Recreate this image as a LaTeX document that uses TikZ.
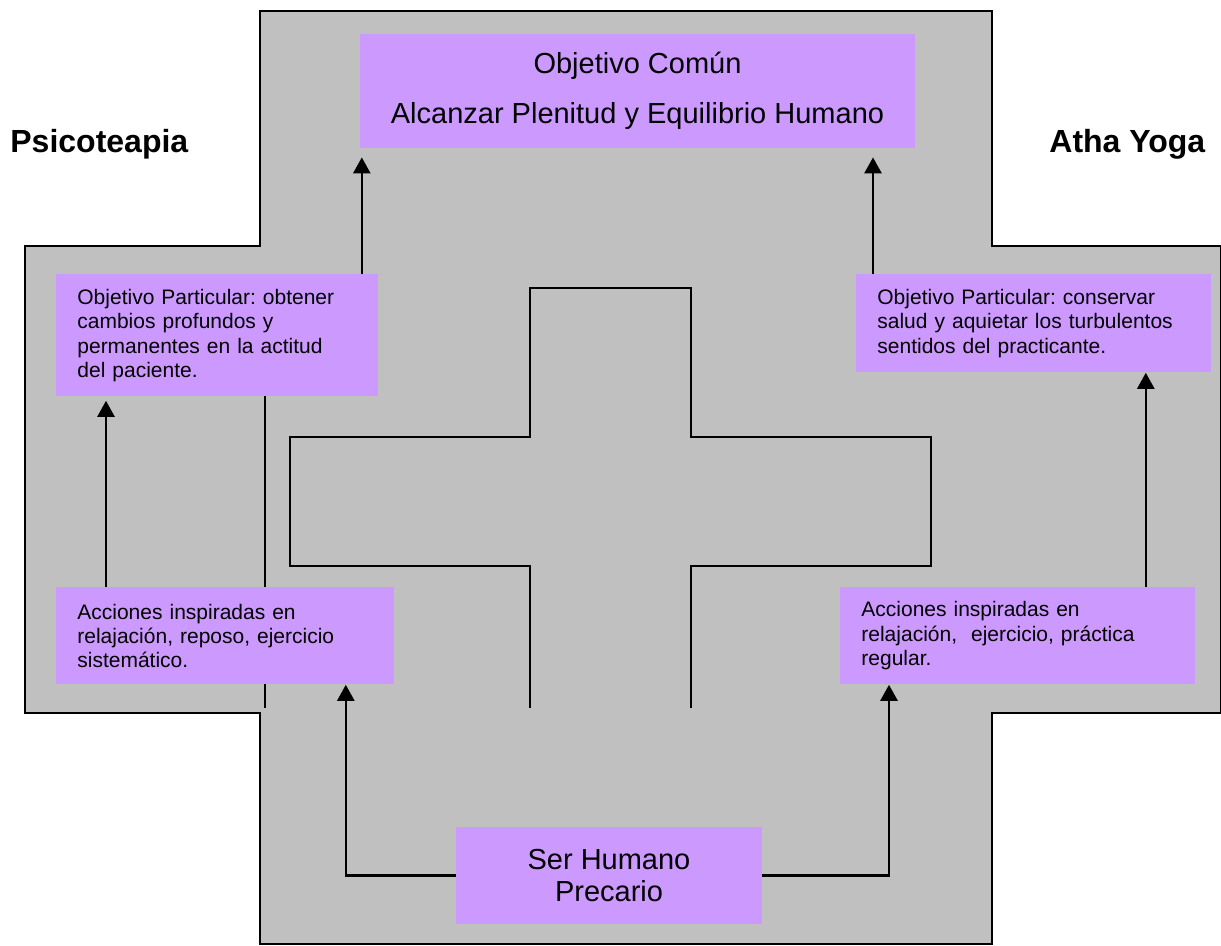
\documentclass[tikz,border=0pt]{standalone}
\usepackage{fontspec}
\setmainfont{Liberation Sans}
\usepackage{tikz}
\usetikzlibrary{arrows.meta,positioning,calc}
\definecolor{gris}{HTML}{C0C0C0}
\definecolor{lila}{HTML}{CC99FF}
\frenchspacing

\begin{document}
\begin{tikzpicture}[x=0.5pt,y=-0.5pt,
  every node/.style={inner sep=0pt},
  caja/.style={fill=lila,inner xsep=10.5pt,inner ysep=0pt,align=left,
    font=\fontsize{10.5pt}{12.2pt}\selectfont},
  grande/.style={fill=lila,align=center,font=\fontsize{14.5pt}{16pt}\selectfont},
  titulo/.style={anchor=base west,font=\bfseries\fontsize{16pt}{18pt}\selectfont},
  flecha/.style={line width=1.3pt,-{Triangle[width=8.5pt,length=8pt]}}]
  \useasboundingbox (0,0) rectangle (1221,946);
  % cruz exterior
  \filldraw[fill=gris,line width=0.75pt] (260,11) -- (992,11) -- (992,246) -- (1221,246)
    -- (1221,713) -- (992,713) -- (992,944) -- (260,944) -- (260,713) -- (25,713)
    -- (25,246) -- (260,246) -- cycle;
  % cruz interior
  \draw[line width=0.9pt] (530,708) -- (530,566) -- (290,566) -- (290,437) -- (530,437)
    -- (530,288) -- (691,288) -- (691,437) -- (931,437) -- (931,566) -- (691,566) -- (691,708);
  \draw[line width=0.9pt] (265,380) -- (265,708);

  \node[grande,minimum width=277.5pt,minimum height=57pt] (comun) at (637.5,91)
    {Objetivo Común\\[9pt]Alcanzar Plenitud y Equilibrio Humano};
  \node[caja,anchor=north west,minimum width=161pt,minimum height=61pt,text width=140pt]
    (objIzq) at (56,274) {Objetivo Particular: obtener\\cambios profundos y\\permanentes en la actitud\\del paciente.};
  \node[caja,anchor=north west,minimum width=177.5pt,minimum height=49pt,text width=156.5pt]
    (objDer) at (856,274) {Objetivo Particular: conservar\\salud y aquietar los turbulentos\\sentidos del practicante.};
  \node[caja,anchor=north west,minimum width=169pt,minimum height=48.5pt,text width=148pt]
    (accIzq) at (56,587) {Acciones inspiradas en\\relajación, reposo, ejercicio\\sistemático.};
  \node[caja,anchor=north west,minimum width=177.5pt,minimum height=48.5pt,text width=156.5pt]
    (accDer) at (840,587) {Acciones inspiradas en\\relajación,~ ejercicio, práctica\\regular.};
  \node[grande,minimum width=153pt,minimum height=48.5pt] (ser) at (609,875.5)
    {Ser Humano\\Precario};
  \node[titulo] (psico) at (10,153) {Psicoteapia};
  \node[titulo] (yoga) at (1049,153) {Atha Yoga};

  \draw[flecha,shorten >=4.5pt] ([xshift=-8.5pt]objIzq.north east) -- ([xshift=-8.5pt]objIzq.north east |- comun.south);
  \draw[flecha,shorten >=4.5pt] ([xshift=8.5pt]objDer.north west) -- ([xshift=8.5pt]objDer.north west |- comun.south);
  \draw[flecha,shorten >=2pt] ([xshift=25pt]accIzq.north west) -- ([xshift=25pt]accIzq.north west |- objIzq.south);
  \draw[flecha] ([xshift=-25pt]accDer.north east) -- ([xshift=-25pt]accDer.north east |- objDer.south);
  \draw[flecha] (ser.west) -| ([xshift=-24.5pt]accIzq.south east);
  \draw[flecha] (ser.east) -| ([xshift=24.5pt]accDer.south west);
\end{tikzpicture}
\end{document}
